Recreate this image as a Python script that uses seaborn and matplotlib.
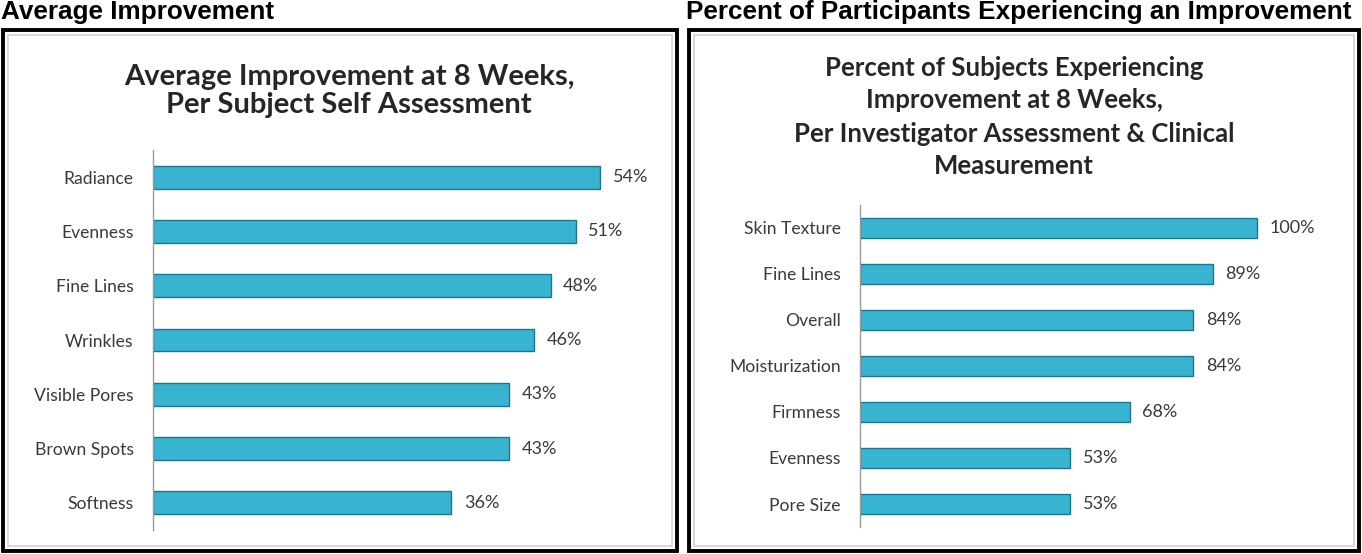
import matplotlib
matplotlib.use("Agg")
import matplotlib.pyplot as plt
import seaborn as sns
import pandas as pd
from matplotlib.patches import Rectangle

# Dados
left_labels = ['Radiance', 'Evenness', 'Fine Lines', 'Wrinkles', 'Visible Pores', 'Brown Spots', 'Softness']
left_values = [54, 51, 48, 46, 43, 43, 36]

right_labels = ['Skin Texture', 'Fine Lines', 'Overall', 'Moisturization', 'Firmness', 'Evenness', 'Pore Size']
right_values = [100, 89, 84, 84, 68, 53, 53]

left_header = 'Average Improvement'
right_header = 'Percent of Participants Experiencing an Improvement'
left_title = 'Average Improvement at 8 Weeks,\nPer Subject Self Assessment'
right_title = 'Percent of Subjects Experiencing\nImprovement at 8 Weeks,\nPer Investigator Assessment & Clinical\nMeasurement'

sns.set_style('white')
plt.rcParams['font.family'] = ['Lato', 'DejaVu Sans']

W, H = 1362, 554
fig = plt.figure(figsize=(W / 100, H / 100), dpi=100)

def fx(px):
    return px / W

def fy(py):
    return 1 - py / H

bar_color = '#38B4D0'
edge_color = '#1D7690'
text_color = '#3A3A3A'

# Caixas externas
for x0, x1 in [(3, 677), (689, 1359)]:
    fig.patches.append(Rectangle((fx(x0), fy(551)), fx(x1 - x0), (551 - 30) / H,
                                 transform=fig.transFigure, fill=False,
                                 edgecolor='black', linewidth=2.8))
    fig.patches.append(Rectangle((fx(x0 + 5), fy(546)), fx(x1 - x0 - 10), (546 - 35) / H,
                                 transform=fig.transFigure, fill=False,
                                 edgecolor='#D5D5D5', linewidth=1.3))

# Cabeçalhos
fig.text(fx(1), fy(19), left_header, family='Liberation Sans', weight='bold',
         fontsize=18.8, va='baseline', ha='left', color='black')
fig.text(fx(686), fy(19), right_header, family='Liberation Sans', weight='bold',
         fontsize=18.8, va='baseline', ha='left', color='black')

# Títulos
fig.text(fx(349), fy(91), left_title, ha='center', va='center', fontsize=21,
         weight='bold', color='#262626', linespacing=1.12)
fig.text(fx(1014), fy(117), right_title, ha='center', va='center', fontsize=18.5,
         weight='bold', color='#262626', linespacing=1.45)


def draw(ax, labels, values, xmax, height):
    df = pd.DataFrame({'Item': labels, 'Valor': values})
    sns.barplot(data=df, x='Valor', y='Item', orient='h', color=bar_color,
                edgecolor=edge_color, linewidth=1.0, width=height, ax=ax,
                saturation=1)
    ax.set_xlim(0, xmax)
    ax.set_ylim(len(labels) - 0.5, -0.5)
    ax.set_xlabel('')
    ax.set_ylabel('')
    ax.set_xticks([])
    for s in ['top', 'right', 'bottom']:
        ax.spines[s].set_visible(False)
    ax.spines['left'].set_color('#9A9A9A')
    ax.spines['left'].set_linewidth(1.0)
    ax.tick_params(axis='y', length=0, pad=14, labelsize=12.6, labelcolor=text_color)
    ax.bar_label(ax.containers[0], labels=[f'{v}%' for v in values], padding=9,
                 fontsize=13, color=text_color)
    ax.patch.set_alpha(0)


ax1 = fig.add_axes([fx(153), fy(530), fx(660 - 153), (530 - 150) / H])
draw(ax1, left_labels, left_values, 61.2, 0.42)

ax2 = fig.add_axes([fx(860), fy(527), fx(1340 - 860), (527 - 205) / H])
draw(ax2, right_labels, right_values, 121, 0.42)

fig.savefig('out.png', dpi=100)
